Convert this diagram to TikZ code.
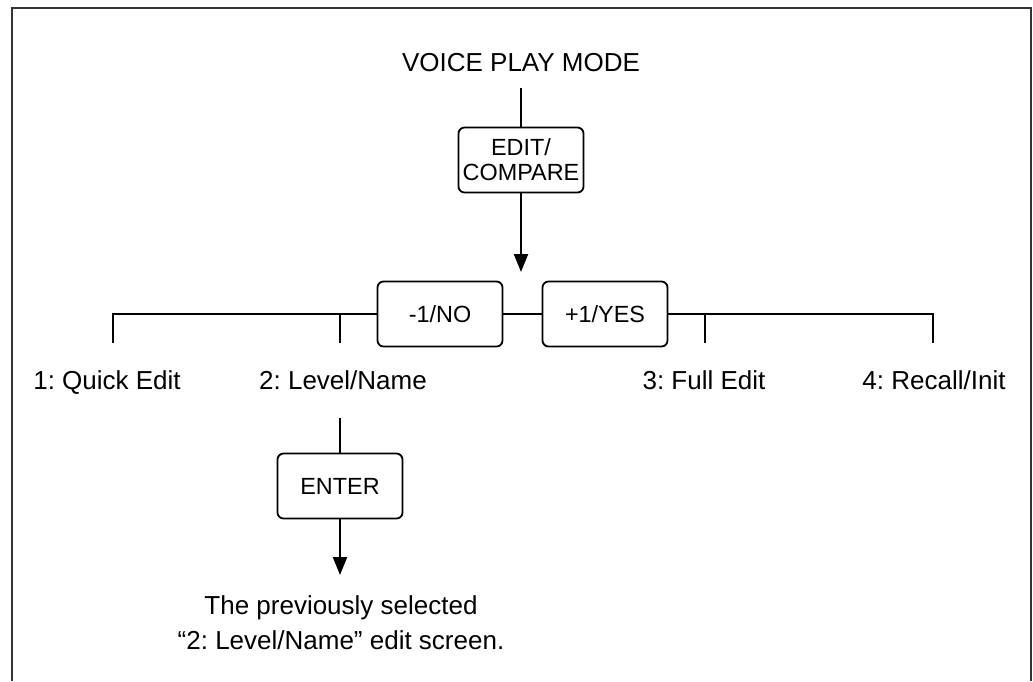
\documentclass[tikz,border=0pt]{standalone}
\usepackage{fontspec}
\setmainfont{Liberation Sans}
\usetikzlibrary{positioning,arrows.meta}
\frenchspacing

\begin{document}
\begin{tikzpicture}[x=1pt, y=-1pt,
  key/.style={draw, line width=1.8pt, rounded corners=6pt, align=center, inner sep=0pt,
    font=\fontsize{23.4}{25}\selectfont, minimum width=125pt, minimum height=65pt},
  label/.style={align=center, inner sep=0pt, font=\fontsize{26}{35}\selectfont},
  wire/.style={line width=2.2pt},
  arrow/.style={wire, -{Triangle[length=18pt, width=14pt]}}]
  \useasboundingbox (0,0) rectangle (1033,681);
  \draw[line width=2pt, black!80] (12,681) -- (12,8) -- (1031,8) -- (1031,681);
  \node[label] (vpm) at (521,63) {VOICE PLAY MODE};
  \node[key] (edit) at (521,160) {EDIT/\\COMPARE};
  \node[key] (no) at (440,314) {-1/NO};
  \node[key] (yes) at (605,314) {+1/YES};
  \node[label, anchor=base] (quick) at (107,389) {1: Quick Edit};
  \node[label, anchor=base] (level) at (343,389) {2: Level/Name};
  \node[label, anchor=base] (full) at (704,389) {3: Full Edit};
  \node[label, anchor=base] (recall) at (934,389) {4: Recall/Init};
  \node[key] (enter) at (340,486) {ENTER};
  \node[label] (result) at (341,623) {The previously selected\\``2: Level/Name'' edit screen.};
  % ends of the lines
  \coordinate (vpm-out) at (521,88);
  \coordinate (split) at (521,272);
  \coordinate (quick-in) at (113,343);
  \coordinate (level-in) at (340,343);
  \coordinate (full-in) at (705,343);
  \coordinate (recall-in) at (933,343);
  \coordinate (level-out) at (340,418);
  \coordinate (result-in) at (340,575);
  \draw[wire] (vpm-out) -- (edit);
  \draw[arrow] (edit) -- (split);
  \draw[wire] (no.west) -| (quick-in);
  \draw[wire] (yes.east) -| (recall-in);
  \draw[wire] (no) -- (yes);
  \draw[wire] (level-in |- no.west) -- (level-in);
  \draw[wire] (full-in |- yes.east) -- (full-in);
  \draw[wire] (level-out) -- (enter);
  \draw[arrow] (enter) -- (result-in);
\end{tikzpicture}
\end{document}
